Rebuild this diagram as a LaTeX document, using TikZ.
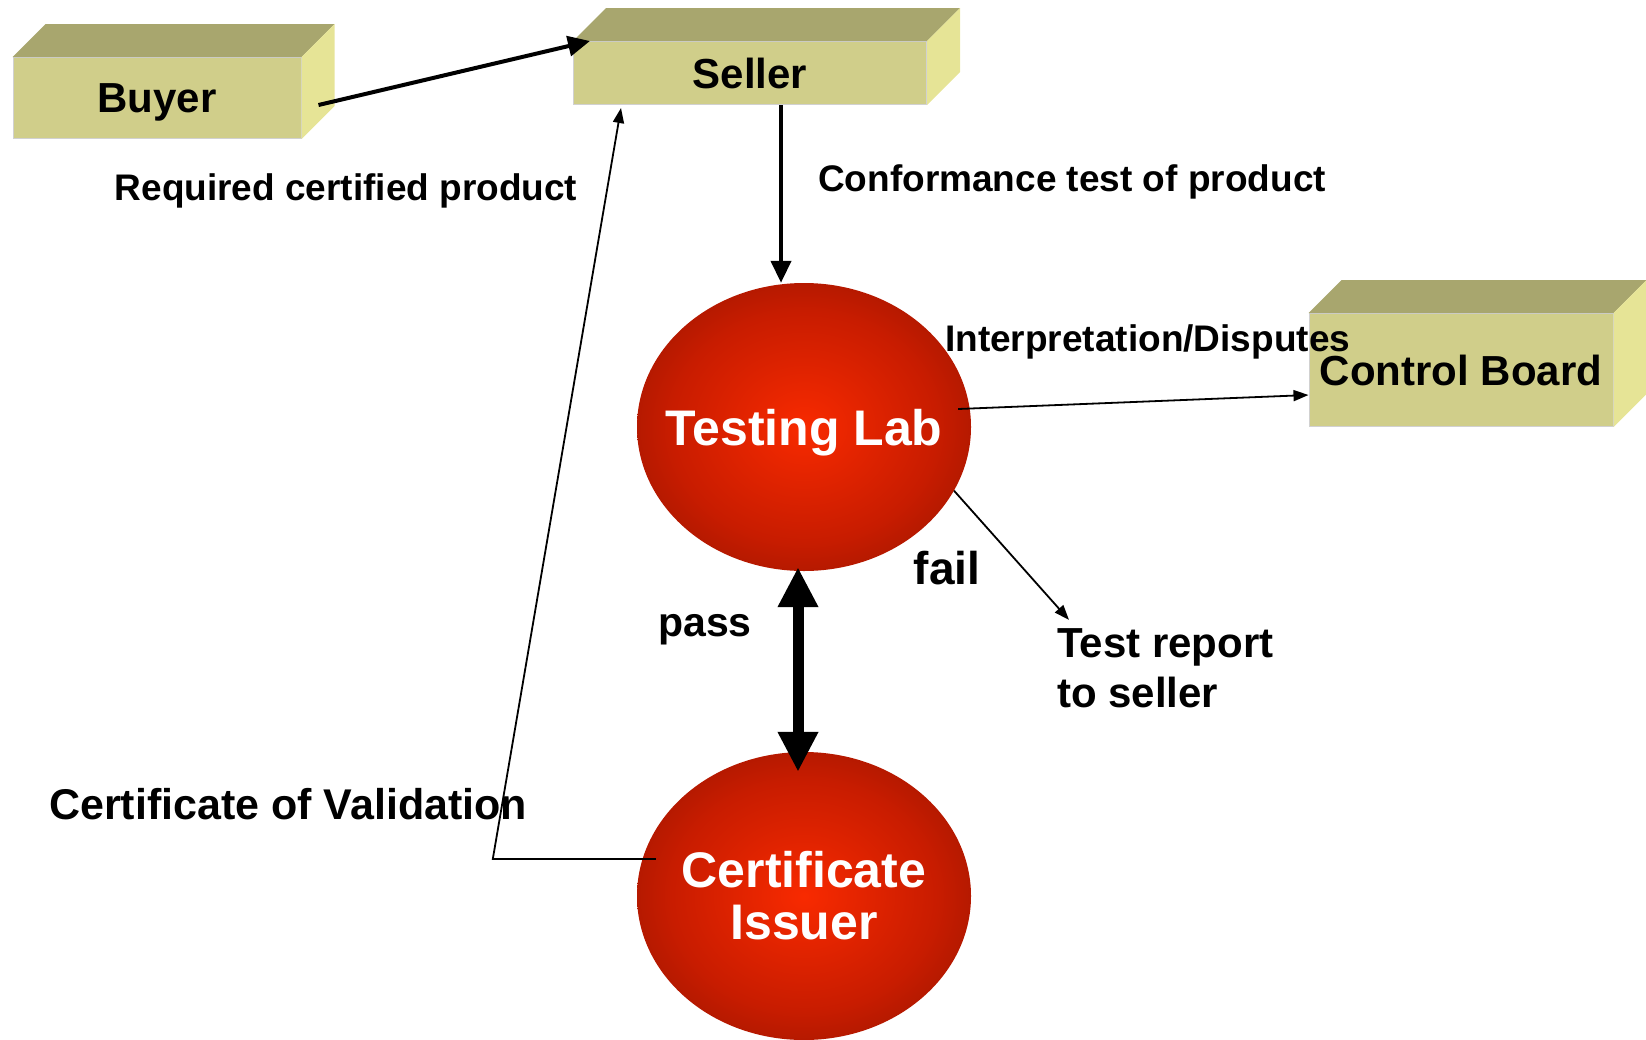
\documentclass[tikz,border=0pt]{standalone}
\usepackage{fontspec}
\setmainfont{Liberation Sans}
\usetikzlibrary{arrows.meta,shapes.geometric}

\definecolor{boxfront}{HTML}{D0CE8A}
\definecolor{boxtop}{HTML}{A8A66E}
\definecolor{boxside}{HTML}{E6E496}
\definecolor{labcore}{HTML}{F82A00}
\definecolor{labmid}{HTML}{C81C00}
\definecolor{labrim}{HTML}{861200}
\pgfdeclareradialshading[labcore,labmid,labrim]{labglow}{\pgfpoint{0bp}{0bp}}{color(0bp)=(labcore); color(20bp)=(labmid); color(38bp)=(labrim); color(72bp)=(labrim)}

\tikzset{
  crate/.style={fill=boxfront, draw=black!18, line width=1pt, inner sep=0pt,
    text depth=0pt, font=\bfseries\fontsize{42}{48}\selectfont},
  lab/.style={ellipse, shading=labglow, minimum width=334pt, minimum height=288pt,
    inner xsep=-22pt, inner ysep=0pt, text=white, align=center,
    font=\bfseries\fontsize{50}{52}\selectfont},
  note/.style={inner sep=0pt, font=\bfseries\fontsize{37}{42}\selectfont},
  tag/.style={inner sep=0pt, font=\bfseries\fontsize{42}{50}\selectfont},
  link/.style={line width=4pt, -{Triangle[length=22pt,width=20pt]}},
  tie/.style={line width=1.8pt, -{Triangle[length=15pt,width=11pt]}},
  bolt/.style={line width=11pt, {Triangle[length=40pt,width=38pt]}-{Triangle[length=40pt,width=38pt]}}
}

\begin{document}
\begin{tikzpicture}[x=1pt,y=-1pt]
  \useasboundingbox (0,0) rectangle (1646,1039);

  % boxes
  \node[crate, minimum width=288pt, minimum height=81pt] (buyer) at (157,98) {Buyer};
  \node[crate, minimum width=353pt, minimum height=63pt] (seller) at (750,73) {Seller};
  \node[crate, minimum width=304pt, minimum height=113pt] (board) at (1461,370) {Control Board};
  \foreach \n in {buyer,seller,board}{
    \fill[boxtop] (\n.north west) -- ++(33,-33) -- ([shift={(33,-33)}]\n.north east) -- (\n.north east) -- cycle;
    \fill[boxside] (\n.north east) -- ++(33,-33) -- ([shift={(33,-33)}]\n.south east) -- (\n.south east) -- cycle;
  }

  % labs
  \node[lab, text depth=0pt] (lab) at (804,427) {Testing Lab};
  \node[lab] (cert) at (804,896) {Certificate\\Issuer};

  % labels
  \node[note, anchor=base] (need) at (346,200) {Required certified product};
  \node[note, anchor=base west] (conform) at (818,191) {Conformance test of product};
  \node[note, anchor=base west] (dispute) at (945,351) {Interpretation/Disputes};
  \node[tag, anchor=base, font=\bfseries\fontsize{46}{50}\selectfont] (fail) at (947,584) {fail};
  \node[tag, anchor=base, font=\bfseries\fontsize{41}{50}\selectfont] (pass) at (705,636) {pass};
  \node[tag, anchor=base west, align=left] (report) at (1057,707) {Test report\\to seller};
  \node[tag, anchor=base west, font=\bfseries\fontsize{43}{50}\selectfont] (valid) at (49,819) {Certificate of Validation};

  % connectors
  \coordinate (drop) at ([shift={(31,0)}]seller.south);
  \draw[link] ([shift={(17,7)}]buyer.east) -- ([shift={(17,0)}]seller.north west);
  \draw[link] (drop) -- (drop |- lab.north);
  \draw[tie] ([shift={(-13,-18)}]lab.east) -- ([shift={(0,25)}]board.west);
  \draw[tie] (lab.-23) -- ([shift={(12,-8)}]report.north west);
  \draw[bolt] ([shift={(-6,-4)}]lab.south) -- ([shift={(-6,20)}]cert.north);
  \draw[tie] ([shift={(19,-37)}]cert.west) -- ++(-163,0) -- ([shift={(48,3)}]seller.south west);
\end{tikzpicture}
\end{document}
